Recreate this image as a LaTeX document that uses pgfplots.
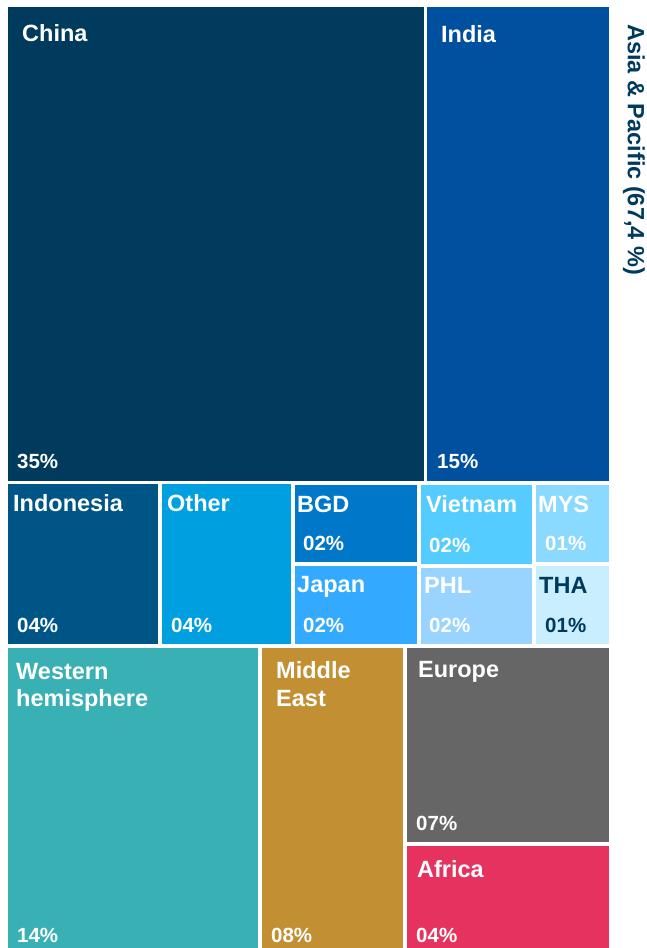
\documentclass[border=0pt]{standalone}
\usepackage{pgfplots}
\pgfplotsset{compat=1.18}
\usepackage{fontspec}
\setmainfont{Liberation Sans}
\definecolor{cChina}{RGB}{0,58,93}
\definecolor{cIndia}{RGB}{0,80,160}
\definecolor{cIndo}{RGB}{0,85,135}
\definecolor{cOther}{RGB}{0,160,224}
\definecolor{cBGD}{RGB}{0,119,200}
\definecolor{cJapan}{RGB}{51,170,255}
\definecolor{cViet}{RGB}{85,204,255}
\definecolor{cPHL}{RGB}{153,211,255}
\definecolor{cMYS}{RGB}{138,217,255}
\definecolor{cTHA}{RGB}{200,238,255}
\definecolor{cWest}{RGB}{56,176,180}
\definecolor{cME}{RGB}{194,144,51}
\definecolor{cEur}{RGB}{102,102,102}
\definecolor{cAfr}{RGB}{229,50,95}
\definecolor{cTitle}{RGB}{0,58,93}
\tikzset{
  lab/.style={text=white, inner sep=0pt, anchor=base west, font=\fontsize{23.5}{28}\selectfont\bfseries},
  pct/.style={text=white, inner sep=0pt, anchor=base west, font=\fontsize{20.5}{24}\selectfont\bfseries}}
\begin{document}
\begin{tikzpicture}
\begin{axis}[
  scale only axis, width=646pt, height=948pt,
  xmin=0, xmax=646, ymin=0, ymax=948, y dir=reverse,
  hide axis, clip=false,
]
% background
\addplot[fill=white, draw=none] coordinates {(0,0) (646,0) (646,948) (0,948)};
% Asia & Pacific
\addplot[fill=cChina, draw=none] coordinates {(8,7) (424,7) (424,481) (8,481)};
\addplot[fill=cIndia, draw=none] coordinates {(427,7) (609,7) (609,481) (427,481)};
\addplot[fill=cIndo, draw=none] coordinates {(8,484) (158,484) (158,644) (8,644)};
\addplot[fill=cOther, draw=none] coordinates {(162,484) (291,484) (291,644) (162,644)};
\addplot[fill=cBGD, draw=none] coordinates {(295,485) (417,485) (417,562) (295,562)};
\addplot[fill=cJapan, draw=none] coordinates {(295,566) (417,566) (417,644) (295,644)};
\addplot[fill=cViet, draw=none] coordinates {(421,485) (532,485) (532,564) (421,564)};
\addplot[fill=cPHL, draw=none] coordinates {(421,568) (532,568) (532,644) (421,644)};
\addplot[fill=cMYS, draw=none] coordinates {(536,485) (609,485) (609,562) (536,562)};
\addplot[fill=cTHA, draw=none] coordinates {(536,566) (609,566) (609,644) (536,644)};
% other regions
\addplot[fill=cWest, draw=none] coordinates {(8,648) (258,648) (258,948) (8,948)};
\addplot[fill=cME, draw=none] coordinates {(262,648) (403,648) (403,948) (262,948)};
\addplot[fill=cEur, draw=none] coordinates {(407,648) (609,648) (609,842) (407,842)};
\addplot[fill=cAfr, draw=none] coordinates {(407,846) (609,846) (609,948) (407,948)};
% labels
\node[lab] at (axis cs:22,41) {China};
\node[pct] at (axis cs:17,468) {35\%};
\node[lab] at (axis cs:441,42) {India};
\node[pct] at (axis cs:437,468) {15\%};
\node[lab] at (axis cs:13,511) {Indonesia};
\node[pct] at (axis cs:17,632) {04\%};
\node[lab] at (axis cs:167,511) {Other};
\node[pct] at (axis cs:171,632) {04\%};
\node[lab] at (axis cs:297,512) {BGD};
\node[pct] at (axis cs:303,550) {02\%};
\node[lab] at (axis cs:297,592) {Japan};
\node[pct] at (axis cs:303,632) {02\%};
\node[lab] at (axis cs:426,512) {Vietnam};
\node[pct] at (axis cs:429,552) {02\%};
\node[lab] at (axis cs:424,593) {PHL};
\node[pct] at (axis cs:429,632) {02\%};
\node[lab] at (axis cs:538,512) {MYS};
\node[pct] at (axis cs:545,550) {01\%};
\node[lab, text=cTitle] at (axis cs:539,593) {THA};
\node[pct, text=cTitle] at (axis cs:545,632) {01\%};
\node[lab] at (axis cs:16,679) {Western};
\node[lab] at (axis cs:16,706) {hemisphere};
\node[pct] at (axis cs:17,942) {14\%};
\node[lab] at (axis cs:276,678) {Middle};
\node[lab] at (axis cs:276,706) {East};
\node[pct] at (axis cs:271,942) {08\%};
\node[lab] at (axis cs:418,677) {Europe};
\node[pct] at (axis cs:416,830) {07\%};
\node[lab] at (axis cs:417,877) {Africa};
\node[pct] at (axis cs:416,942) {04\%};
\node[lab, text=cTitle, rotate=-90, anchor=north west] at (axis cs:645,24) {Asia \& Pacific (67,4 \%)};
\end{axis}
\end{tikzpicture}
\end{document}
